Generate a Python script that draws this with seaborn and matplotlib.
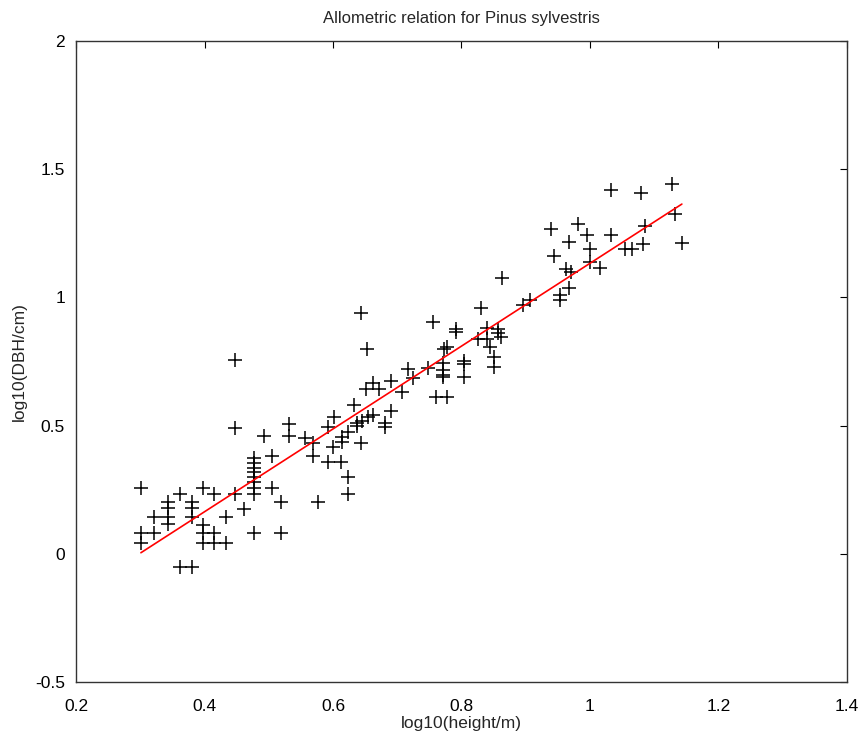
import matplotlib
matplotlib.use('Agg')
import matplotlib.pyplot as plt
import matplotlib.ticker as ticker
import numpy as np
import pandas as pd
import seaborn as sns

# log10 da altura (m)
log_height = [
    0.301, 0.301, 0.301, 0.322, 0.322, 0.343, 0.343, 0.343, 0.343, 0.362,
    0.362, 0.380, 0.380, 0.380, 0.380, 0.398, 0.398, 0.398, 0.398, 0.415,
    0.415, 0.415, 0.433, 0.433, 0.447, 0.447, 0.447, 0.462, 0.477, 0.477,
    0.477, 0.477, 0.477, 0.477, 0.477, 0.477, 0.477, 0.492, 0.505, 0.505,
    0.519, 0.519, 0.532, 0.532, 0.556, 0.569, 0.569, 0.577, 0.592, 0.592,
    0.602, 0.600, 0.612, 0.614, 0.614, 0.623, 0.623, 0.623, 0.633, 0.637,
    0.645, 0.637, 0.644, 0.643, 0.653, 0.652, 0.663, 0.671, 0.663, 0.655,
    0.681, 0.681, 0.690, 0.690, 0.708, 0.716, 0.725, 0.748, 0.756, 0.761,
    0.778, 0.771, 0.771, 0.771, 0.771, 0.772, 0.777, 0.791, 0.791, 0.804,
    0.804, 0.804, 0.825, 0.831, 0.839, 0.839, 0.844, 0.851, 0.851, 0.857,
    0.857, 0.862, 0.863, 0.896, 0.907, 0.939, 0.944, 0.953, 0.953, 0.963,
    0.970, 0.968, 0.968, 0.982, 0.996, 1.000, 1.000, 1.016, 1.033, 1.033,
    1.054, 1.065, 1.079, 1.083, 1.086, 1.127, 1.133, 1.143,
]

# log10 do DBH (cm)
log_dbh = [
    0.255, 0.082, 0.043, 0.145, 0.082, 0.203, 0.177, 0.145, 0.115, 0.232,
    -0.050, 0.203, 0.177, 0.145, -0.050, 0.255, 0.112, 0.082, 0.043, 0.232,
    0.082, 0.043, 0.145, 0.043, 0.756, 0.492, 0.232, 0.175, 0.372, 0.353,
    0.336, 0.320, 0.301, 0.279, 0.255, 0.232, 0.082, 0.459, 0.381, 0.255,
    0.203, 0.082, 0.506, 0.459, 0.450, 0.431, 0.383, 0.203, 0.493, 0.359,
    0.532, 0.418, 0.359, 0.457, 0.437, 0.476, 0.301, 0.233, 0.580, 0.510,
    0.517, 0.497, 0.431, 0.940, 0.798, 0.641, 0.665, 0.641, 0.541, 0.535,
    0.509, 0.493, 0.675, 0.558, 0.632, 0.720, 0.684, 0.723, 0.904, 0.613,
    0.613, 0.745, 0.717, 0.697, 0.691, 0.800, 0.808, 0.876, 0.866, 0.753,
    0.740, 0.691, 0.837, 0.957, 0.880, 0.837, 0.808, 0.766, 0.727, 0.876,
    0.862, 0.847, 1.077, 0.970, 0.990, 1.267, 1.161, 1.009, 0.990, 1.110,
    1.100, 1.217, 1.035, 1.286, 1.243, 1.188, 1.139, 1.116, 1.419, 1.243,
    1.189, 1.189, 1.406, 1.208, 1.278, 1.441, 1.324, 1.211,
]

x_ticks = [0.2, 0.4, 0.6, 0.8, 1.0, 1.2, 1.4]
y_ticks = [-0.5, 0, 0.5, 1, 1.5, 2]


def main():
    df = pd.DataFrame({'log10(height/m)': log_height, 'log10(DBH/cm)': log_dbh})

    sns.set_style('white')
    plt.rcParams['font.family'] = ['Liberation Sans', 'DejaVu Sans']

    fig = plt.figure(figsize=(8.59, 7.36), dpi=100)
    ax = fig.add_axes([0.0885, 0.0734, 0.8975, 0.871])

    # pontos em cruz
    sns.scatterplot(data=df, x='log10(height/m)', y='log10(DBH/cm)', marker='+',
                    color='black', s=110, linewidth=1.1, ax=ax, legend=False)

    # reta de regressao
    sns.regplot(data=df, x='log10(height/m)', y='log10(DBH/cm)', scatter=False,
                ci=None, color='red', line_kws={'linewidth': 1.2}, ax=ax)

    ax.set_xlim(0.2, 1.4)
    ax.set_ylim(-0.5, 2)
    ax.set_xticks(x_ticks)
    ax.set_yticks(y_ticks)
    ax.xaxis.set_major_formatter(ticker.FuncFormatter(lambda v, _: f'{v:g}'))
    ax.yaxis.set_major_formatter(ticker.FuncFormatter(lambda v, _: f'{v:g}'))
    ax.tick_params(direction='in', length=5, width=0.8, top=True, right=True,
                   labelsize=12.5, colors='black')
    ax.tick_params(axis='x', pad=12)
    ax.tick_params(axis='y', pad=8)

    for s in ax.spines.values():
        s.set_color('#333333')
        s.set_linewidth(1.0)
        s.set_visible(True)

    ax.set_title('Allometric relation for Pinus sylvestris', fontsize=12, pad=13)
    ax.set_xlabel('log10(height/m)', fontsize=12.5, labelpad=2)
    ax.set_ylabel('log10(DBH/cm)', fontsize=12.5, labelpad=6)

    fig.savefig('out.png', dpi=100)


if __name__ == '__main__':
    main()
